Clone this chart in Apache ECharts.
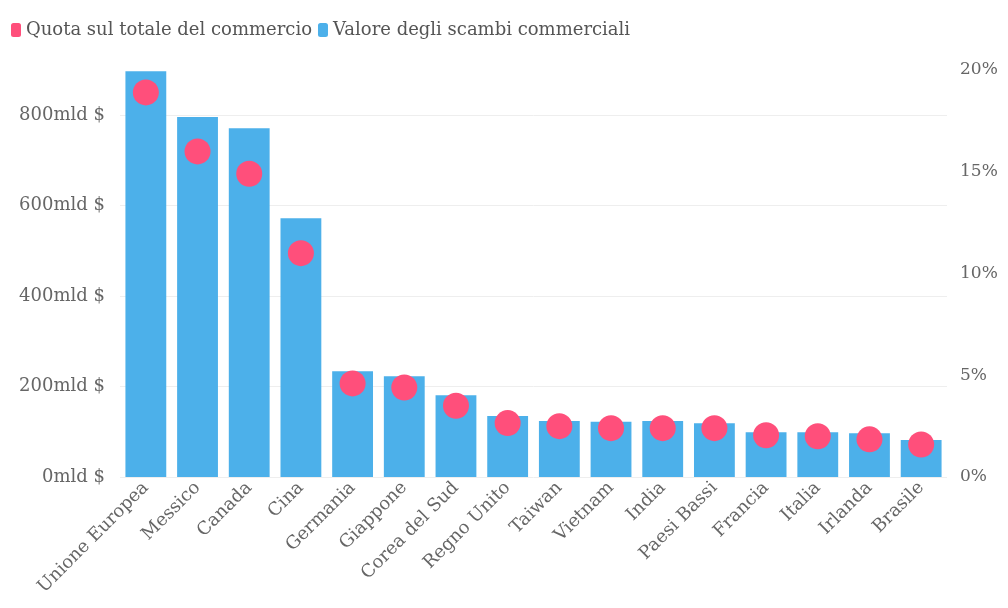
<!DOCTYPE html>
<html>
<head>
<meta charset="utf-8">
<script src="https://cdn.jsdelivr.net/npm/echarts@6/dist/echarts.min.js"></script>
<style>html,body{margin:0;padding:0;background:#fff}#c{width:1008px;height:608px}</style>
</head>
<body>
<div id="c"></div>
<script>
const categories = ["Unione Europea","Messico","Canada","Cina","Germania","Giappone","Corea del Sud","Regno Unito","Taiwan","Vietnam","India","Paesi Bassi","Francia","Italia","Irlanda","Brasile"];
const tradeValue = [897, 796, 771, 572, 234, 223, 181, 135, 124, 122, 124, 119, 99, 99, 97, 82];
const tradeShare = [18.9, 16.0, 14.9, 11.0, 4.6, 4.4, 3.5, 2.65, 2.5, 2.4, 2.4, 2.4, 2.05, 2.0, 1.85, 1.6];
const seriesNames = ["Quota sul totale del commercio", "Valore degli scambi commerciali"];

const font = "DejaVu Serif";
const chart = echarts.init(document.getElementById('c'));
chart.setOption({
  animation: false,
  legend: {
    data: seriesNames,
    left: 6, top: 16,
    icon: 'roundRect', itemWidth: 10, itemHeight: 14, itemGap: 6,
    textStyle: { fontFamily: font, fontSize: 18, color: '#555' }
  },
  grid: { left: 120, right: 61, top: 70, bottom: 131 },
  xAxis: {
    type: 'category', data: categories,
    axisLine: { show: false }, axisTick: { show: false },
    axisLabel: { rotate: 45, interval: 0, margin: 8, fontFamily: font, fontSize: 18, color: '#666' }
  },
  yAxis: [
    {
      type: 'value', min: 0, max: 900, interval: 200,
      axisLabel: { showMaxLabel: false, fontFamily: font, fontSize: 18, color: '#666', margin: 15,
        formatter: v => v + 'mld $' },
      splitLine: { lineStyle: { color: ['#eeeeee','#eeeeee','#eeeeee','#eeeeee','#eeeeee','rgba(0,0,0,0)'] } },
      axisLine: { show: false }, axisTick: { show: false }
    },
    {
      type: 'value', min: 0, max: 20, interval: 5,
      axisLabel: { fontFamily: font, fontSize: 17, color: '#666', margin: 13, formatter: v => v + '%' },
      splitLine: { show: false }, axisLine: { show: false }, axisTick: { show: false }
    }
  ],
  series: [
    {
      name: seriesNames[1], type: 'bar', data: tradeValue, yAxisIndex: 0,
      barCategoryGap: '21%', itemStyle: { color: '#4cb0ea' }, z: 2
    },
    {
      name: seriesNames[0], type: 'scatter', data: tradeShare, yAxisIndex: 1,
      symbolSize: 26, itemStyle: { color: '#ff4f7b', opacity: 1 }, z: 5
    }
  ]
});
</script>
</body>
</html>
